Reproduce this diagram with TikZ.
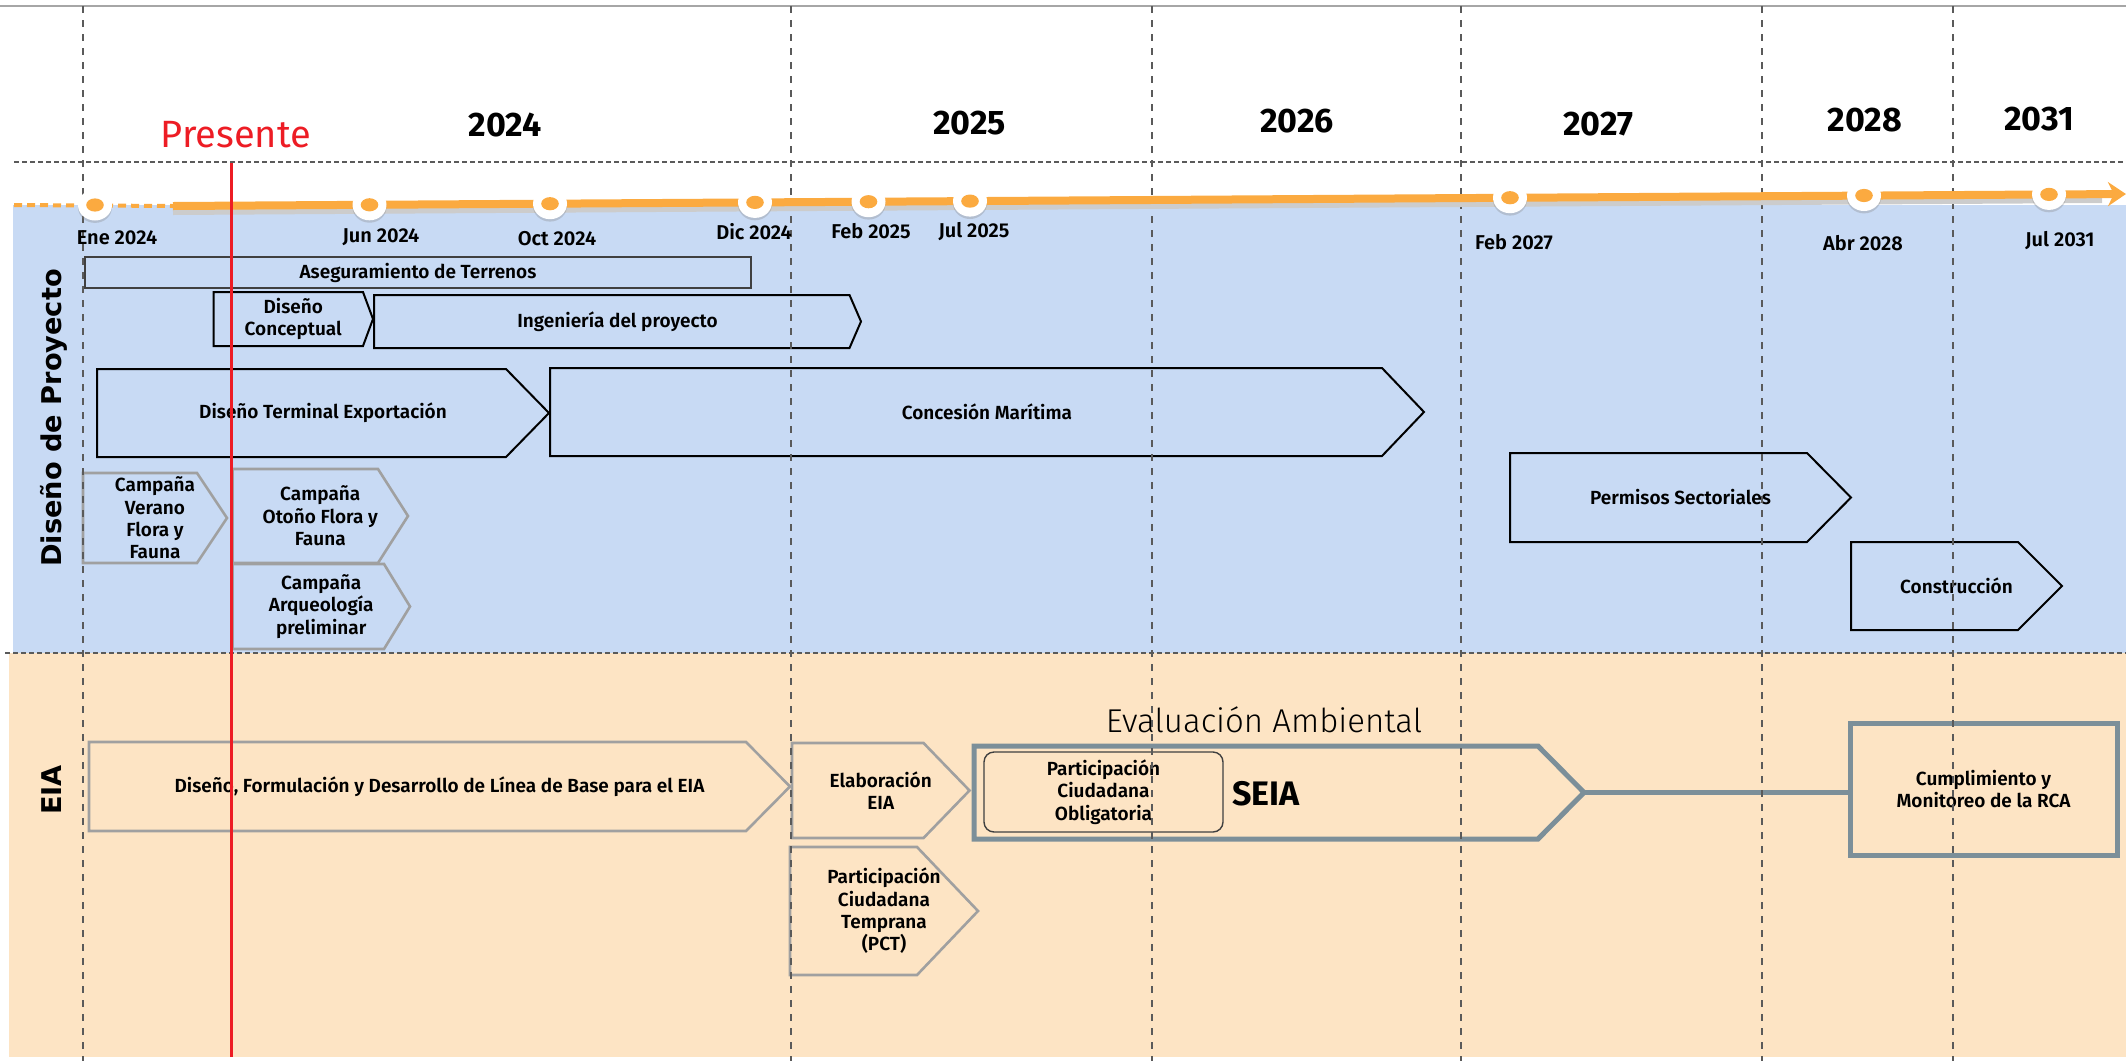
\documentclass[tikz,border=0pt]{standalone}
\usepackage{fontspec}
\setmainfont{Fira Sans}[BoldFont={* SemiBold}]
\newfontfamily\lightfont{Fira Sans Light}
\newfontfamily\heavyfont{Fira Sans Bold}
\newfontfamily\lanefont{DejaVu Sans}
\usetikzlibrary{shapes.geometric, arrows.meta, calc, positioning, shadows}
\definecolor{bluebg}{RGB}{200,218,244}
\definecolor{peachbg}{RGB}{253,228,196}
\definecolor{tlorange}{RGB}{251,170,64}
\definecolor{slate}{RGB}{124,143,153}
\definecolor{gridgray}{RGB}{90,90,90}
\definecolor{stagegray}{RGB}{160,160,160}
\definecolor{presred}{RGB}{237,28,36}
\tikzstyle{gridline} = [gridgray, line width=1pt, dash pattern=on 3.5pt off 3.5pt]
\tikzstyle{rowline} = [gridgray, line width=0.8pt, dash pattern=on 2.5pt off 1.5pt]
\tikzstyle{stage} = [rectangle, inner sep=0pt, outer sep=0pt, align=center, font=\bfseries\fontsize{9.5}{11.2}\selectfont]
\tikzstyle{blackstage} = [black, line width=1pt]
\tikzstyle{graystage} = [stagegray, line width=1.3pt]
\tikzstyle{seiastage} = [slate, line width=2.5pt]
\tikzstyle{milestone} = [ellipse, fill=white, minimum width=17pt, minimum height=15.5pt, inner sep=0pt, drop shadow={opacity=0.3, shadow xshift=0pt, shadow yshift=-1.2pt}, path picture={\fill[tlorange] (path picture bounding box.center) ellipse (4.4pt and 3.3pt);}]
\tikzstyle{datelabel} = [font=\bfseries\fontsize{10}{12}\selectfont]
\tikzstyle{yearlabel} = [font=\heavyfont\fontsize{17}{20}\selectfont]
\tikzstyle{lanelabel} = [rotate=90, font=\lanefont\bfseries\fontsize{13.6}{16}\selectfont]
\tikzstyle{arrow} = [line width=4pt, -{Stealth[length=9pt, width=12pt]}]
\newcommand{\stagepath}[3]{\draw[#1] (#2.north west) -- ([xshift=-#3]#2.north east) -- (#2.east) -- ([xshift=-#3]#2.south east) -- (#2.south west) -- cycle;}
\begin{document}
\begin{tikzpicture}[x=0.5pt, y=-0.5pt]
	\useasboundingbox (0,0) rectangle (2126,1061);
	\fill[bluebg] (13,205) rectangle (2126,653);
	\fill[peachbg] (9,653) rectangle (2126,1057);
	\draw[gray!70, line width=1pt] (0,6) -- (2126,6);
	\draw[rowline] (14,162) -- (2126,162);
	\draw[rowline] (5,653) -- (2126,653);

	\node[yearlabel] (Y2024) at (505,125) {2024};
	\node[yearlabel] (Y2025) at (969.5,123) {2025};
	\node[yearlabel] (Y2026) at (1297,121) {2026};
	\node[yearlabel] (Y2027) at (1598.5,124) {2027};
	\node[yearlabel] (Y2028) at (1865,120) {2028};
	\node[yearlabel] (Y2031) at (2039,119) {2031};
	\node[font=\fontsize{19}{22}\selectfont, text=presred] (Presente) at (236,135) {Presente};

	\node[lanelabel] (Proyecto) at (54,418) {Diseño de Proyecto};
	\node[lanelabel] (EIA) at (52,790) {EIA};

	\node[stage, draw=black!75, line width=0.6pt, minimum width=333pt, minimum height=15.5pt] (Terrenos) at (418,272.5) {Aseguramiento de Terrenos};
	\node[stage, minimum width=79.75pt, minimum height=27pt] (Conceptual) at (293.25,319) {Diseño\\Conceptual};
	\stagepath{blackstage}{Conceptual}{5pt}
	\node[stage, minimum width=243.5pt, minimum height=26.5pt] (Ingenieria) at (617.5,321.5) {Ingeniería del proyecto};
	\stagepath{blackstage}{Ingenieria}{5.75pt}
	\node[stage, minimum width=226pt, minimum height=44pt] (Terminal) at (323,413) {Diseño Terminal Exportación};
	\stagepath{blackstage}{Terminal}{21.5pt}
	\node[stage, minimum width=437pt, minimum height=44pt] (Concesion) at (987,412) {Concesión Marítima};
	\stagepath{blackstage}{Concesion}{21pt}
	\node[stage, minimum width=72pt, minimum height=45pt] (Verano) at (155,518) {Campaña\\Verano\\Flora y\\Fauna};
	\stagepath{graystage}{Verano}{15pt}
	\node[stage, minimum width=87.75pt, minimum height=47pt] (Otono) at (320.25,516) {Campaña\\Otoño Flora y\\Fauna};
	\stagepath{graystage}{Otono}{15pt}
	\node[stage, minimum width=88.75pt, minimum height=42.5pt] (Arqueologia) at (321.25,606.5) {Campaña\\Arqueología\\preliminar};
	\stagepath{graystage}{Arqueologia}{13pt}
	\node[stage, minimum width=170.5pt, minimum height=44.5pt] (Permisos) at (1680.5,497.5) {Permisos Sectoriales};
	\stagepath{blackstage}{Permisos}{22pt}
	\node[stage, minimum width=105.5pt, minimum height=44pt] (Construccion) at (1956.5,586) {Construcción};
	\stagepath{blackstage}{Construccion}{22pt}

	\node[stage, minimum width=350.5pt, minimum height=44.5pt] (LineaBase) at (439.5,786.5) {Diseño, Formulación y Desarrollo de Línea de Base para el EIA};
	\stagepath{graystage}{LineaBase}{22pt}
	\node[stage, minimum width=88.75pt, minimum height=47.5pt] (Elaboracion) at (880.75,790.5) {Elaboración\\EIA};
	\stagepath{graystage}{Elaboracion}{23pt}
	\node[stage, minimum width=94pt, minimum height=64pt] (PCT) at (884,911) {Participación\\Ciudadana\\Temprana\\(PCT)};
	\stagepath{graystage}{PCT}{30.5pt}
	\node[stage, minimum width=305pt, minimum height=46.5pt] (SEIA) at (1279,792.5) {};
	\stagepath{seiastage}{SEIA}{23pt}
	\node[stage, draw=black!75, line width=0.7pt, rounded corners=5pt, minimum width=119.5pt, minimum height=40pt] (PCO) at (1103.5,792) {Participación\\Ciudadana\\Obligatoria};
	\node[font=\heavyfont\fontsize{17}{20}\selectfont] (SEIALabel) at (1266,794) {SEIA};
	\node[font=\lightfont\fontsize{16.5}{20}\selectfont] (EvalAmb) at (1264,720) {Evaluación Ambiental};
	\node[stage, draw=slate, line width=2.5pt, minimum width=133.5pt, minimum height=66pt] (RCA) at (1983.5,789) {Cumplimiento y\\Monitoreo de la RCA};
	\draw[seiastage] (SEIA.east) -- (SEIA.east -| RCA.west);

	\foreach \x in {83,791,1152,1461,1762,1953}
		\draw[gridline] (\x,6) -- (\x,1061);

	\coordinate (TLStart) at (14,205);
	\coordinate (TLSolid) at (173,206);
	\coordinate (TLEnd) at (2126,194);
	\draw[black!20, line width=3pt] ($(TLSolid)+(0,6)$) -- ($(TLEnd)+(-24,6)$);
	\draw[tlorange, line width=2pt, dash pattern=on 4pt off 2.5pt] (TLStart) -- (TLSolid);
	\draw[arrow, tlorange] (TLSolid) -- (TLEnd);

	\node[milestone] (Ene24) at (95,205) {};
	\node[milestone] (Jun24) at (369.5,204.8) {};
	\node[milestone] (Oct24) at (550,203.7) {};
	\node[milestone] (Dic24) at (755,202.4) {};
	\node[milestone] (Feb25) at (868.5,201.7) {};
	\node[milestone] (Jul25) at (970,201.1) {};
	\node[milestone] (Feb27) at (1510,197.7) {};
	\node[milestone] (Abr28) at (1864,195.5) {};
	\node[milestone] (Jul31) at (2049,194.4) {};

	\node[datelabel] (Ene24Label) at (117,238) {Ene 2024};
	\node[datelabel] (Jun24Label) at (381,237) {Jun 2024};
	\node[datelabel] (Oct24Label) at (557,239) {Oct 2024};
	\node[datelabel] (Dic24Label) at (754,232) {Dic 2024};
	\node[datelabel] (Feb25Label) at (871,231) {Feb 2025};
	\node[datelabel] (Jul25Label) at (974,232) {Jul 2025};
	\node[datelabel] (Feb27Label) at (1514,242) {Feb 2027};
	\node[datelabel] (Abr28Label) at (1863,243) {Abr 2028};
	\node[datelabel] (Jul31Label) at (2060,241) {Jul 2031};

	\draw[presred, line width=1.5pt] (231,163) -- (231,1057);
\end{tikzpicture}
\end{document}
